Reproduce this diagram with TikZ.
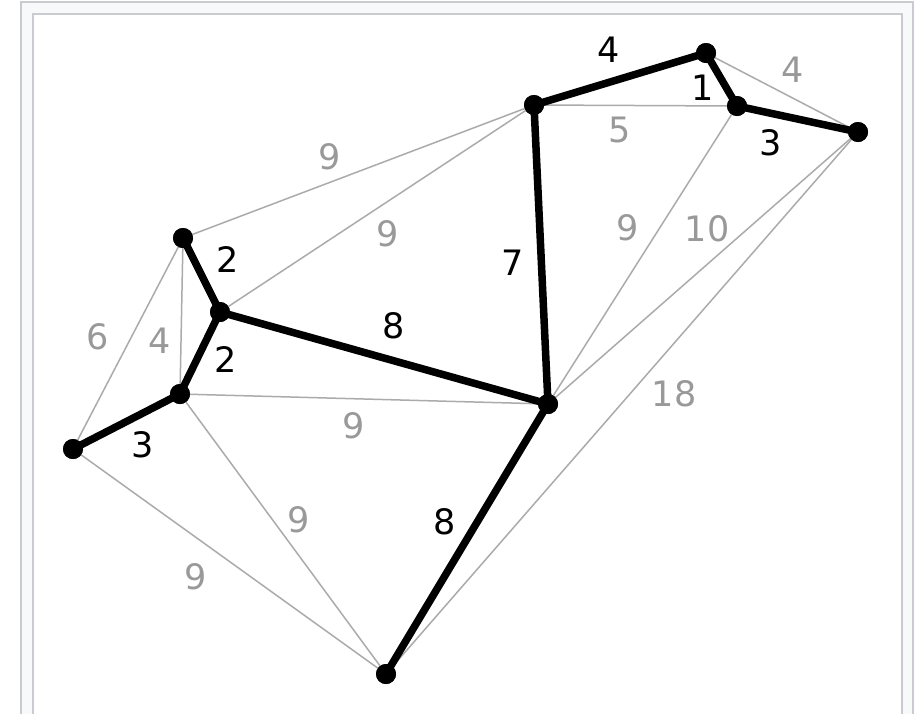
\documentclass[tikz,border=0pt]{standalone}
\usepackage{fontspec}
\setmainfont{DejaVu Sans}
\definecolor{frameline}{HTML}{C8CCD1}
\definecolor{framefill}{HTML}{F8F9FA}
\definecolor{edgegray}{HTML}{ABABAB}
\definecolor{labelgray}{HTML}{999999}
\tikzset{
  vtx/.style={circle,fill=black,inner sep=0pt,minimum size=20pt},
  mst/.style={line width=7.5pt,black},
  other/.style={line width=1.5pt,draw=edgegray},
  wb/.style={font=\fontsize{35}{40}\selectfont,text=black,inner sep=0pt},
  wg/.style={font=\fontsize{35}{40}\selectfont,text=labelgray,inner sep=0pt},
}
\begin{document}
\begin{tikzpicture}[x=1pt,y=-1pt]
\useasboundingbox (0,0) rectangle (923,713);
\fill[framefill] (21,2) rectangle (913,720);
\draw[frameline,line width=2pt] (21,720) -- (21,2) -- (913,2) -- (913,720);
\fill[white] (33,14) rectangle (902,720);
\draw[frameline,line width=2pt] (33,720) -- (33,14) -- (902,14) -- (902,720);
% vertices
\node[vtx] (A) at (183,238) {};
\node[vtx] (B) at (220,312) {};
\node[vtx] (C) at (180,394) {};
\node[vtx] (D) at (73,449) {};
\node[vtx] (E) at (386,674) {};
\node[vtx] (F) at (548,404) {};
\node[vtx] (G) at (534,105) {};
\node[vtx] (H) at (706,53) {};
\node[vtx] (I) at (737,106) {};
\node[vtx] (J) at (858,132) {};
% non-tree edges
\draw[other] (A.center) -- (G.center);
\draw[other] (B.center) -- (G.center);
\draw[other] (A.center) -- (C.center);
\draw[other] (A.center) -- (D.center);
\draw[other] (C.center) -- (F.center);
\draw[other] (C.center) -- (E.center);
\draw[other] (D.center) -- (E.center);
\draw[other] (G.center) -- (I.center);
\draw[other] (F.center) -- (I.center);
\draw[other] (F.center) -- (J.center);
\draw[other] (E.center) -- (J.center);
\draw[other] (H.center) -- (J.center);
% tree edges
\draw[mst] (A.center) -- (B.center);
\draw[mst] (B.center) -- (C.center);
\draw[mst] (C.center) -- (D.center);
\draw[mst] (B.center) -- (F.center);
\draw[mst] (F.center) -- (E.center);
\draw[mst] (F.center) -- (G.center);
\draw[mst] (G.center) -- (H.center);
\draw[mst] (H.center) -- (I.center);
\draw[mst] (I.center) -- (J.center);
% vertices on top
\foreach \v in {A,B,C,D,E,F,G,H,I,J} \fill (\v) circle (10pt);
% labels
\node[wg] (lAG) at (330,157) {9};
\node[wg] (lBG) at (388,234) {9};
\node[wb] (lAB) at (228,260) {2};
\node[wg] (lAD) at (98,337) {6};
\node[wg] (lAC) at (160,341) {4};
\node[wb] (lBC) at (226,360) {2};
\node[wb] (lCD) at (143,445) {3};
\node[wb] (lBF) at (394,326) {8};
\node[wg] (lCF) at (354,426) {9};
\node[wg] (lCE) at (299,520) {9};
\node[wg] (lDE) at (196,577) {9};
\node[wb] (lFE) at (445,522) {8};
\node[wb] (lFG) at (513,263) {7};
\node[wb] (lGH) at (609,50) {4};
\node[wb] (lHI) at (703,88) {1};
\node[wg] (lGI) at (620,130) {5};
\node[wb] (lIJ) at (771,143) {3};
\node[wg] (lHJ) at (793,70) {4};
\node[wg] (lFI) at (628,228) {9};
\node[wg] (lFJ) at (707,229) {10};
\node[wg] (lEJ) at (674,394) {18};
\end{tikzpicture}
\end{document}
